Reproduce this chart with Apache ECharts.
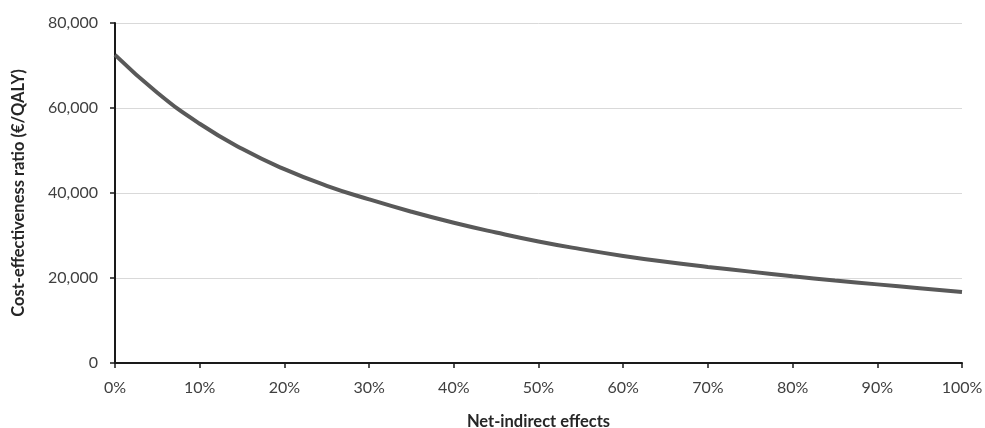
<!DOCTYPE html>
<html>
<head>
<meta charset="utf-8">
<script src="https://cdn.jsdelivr.net/npm/echarts@6/dist/echarts.min.js"></script>
<style>
html,body{margin:0;padding:0;background:#fff;}
#chart{width:985px;height:428px;}
</style>
</head>
<body>
<div id="chart"></div>
<script>
// Net-indirect effects (%)
const effects = [0, 5, 10, 15, 20, 25, 30, 35, 40, 45, 50, 55, 60, 65, 70, 75, 80, 85, 90, 95, 100];
// Cost-effectiveness ratio (€/QALY)
const ratios = [72500, 63600, 56300, 50400, 45600, 41700, 38500, 35600, 33000, 30700, 28600, 26800, 25200, 23800, 22600, 21500, 20400, 19400, 18500, 17600, 16700];
const xTitle = 'Net-indirect effects';
const yTitle = 'Cost-effectiveness ratio (€/QALY)';

const font = 'Lato, "Open Sans", sans-serif';
const chart = echarts.init(document.getElementById('chart'), null, {renderer: 'canvas'});
chart.setOption({
  animation: false,
  backgroundColor: '#ffffff',
  grid: {left: 115, right: 23, top: 23, bottom: 65, containLabel: false, outerBoundsMode: 'none'},
  xAxis: {
    type: 'value',
    min: 0, max: 100, interval: 10,
    name: xTitle,
    nameLocation: 'middle',
    nameGap: 50,
    nameTextStyle: {fontFamily: font, fontSize: 16.5, fontWeight: 'bold', color: '#262626'},
    axisLine: {show: true, lineStyle: {color: '#1a1a1a', width: 2}},
    axisTick: {show: true, length: 5, lineStyle: {color: '#1a1a1a', width: 1.5}},
    axisLabel: {formatter: '{value}%', fontFamily: font, fontSize: 16, color: '#404040', margin: 17},
    splitLine: {show: false}
  },
  yAxis: {
    type: 'value',
    min: 0, max: 80000, interval: 20000,
    name: yTitle,
    nameLocation: 'middle',
    nameGap: 88,
    nameTextStyle: {fontFamily: font, fontSize: 16.5, fontWeight: 'bold', color: '#262626'},
    axisLine: {show: true, lineStyle: {color: '#1a1a1a', width: 2}},
    axisTick: {show: true, length: 5, lineStyle: {color: '#1a1a1a', width: 1.5}},
    axisLabel: {
      formatter: v => v.toLocaleString('en-US'),
      fontFamily: font, fontSize: 16, color: '#404040', margin: 17
    },
    splitLine: {show: true, lineStyle: {color: '#d9d9d9', width: 1}}
  },
  series: [{
    type: 'line',
    data: effects.map((e, i) => [e, ratios[i]]),
    smooth: true,
    showSymbol: false,
    lineStyle: {color: '#595959', width: 4}
  }]
});
</script>
</body>
</html>
